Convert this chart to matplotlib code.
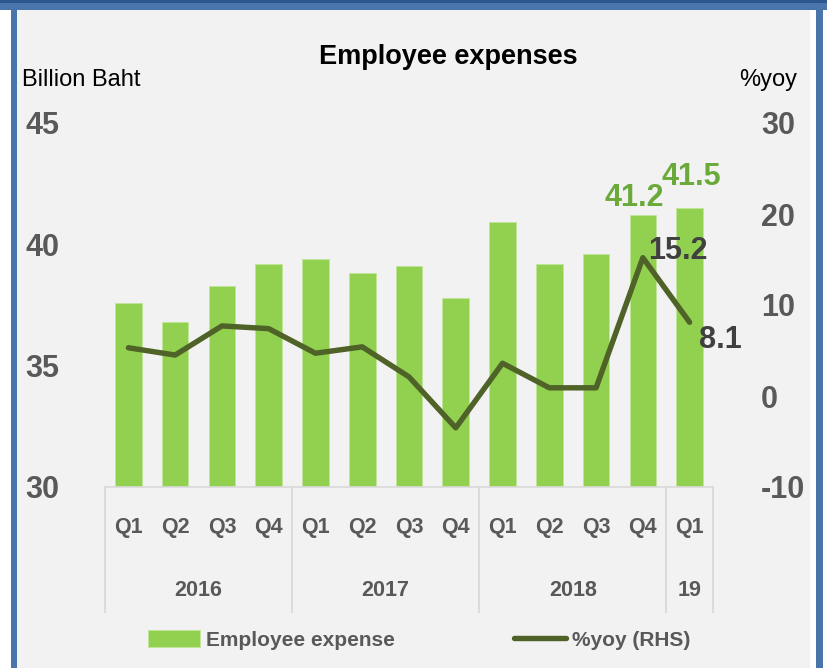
import matplotlib
matplotlib.use("Agg")
import matplotlib.pyplot as plt
from matplotlib.patches import Rectangle
from matplotlib.lines import Line2D

plt.rcParams["font.family"] = ["Liberation Sans", "DejaVu Sans"]
plt.rcParams["axes.unicode_minus"] = False

# quarterly figures
quarters = ["Q1", "Q2", "Q3", "Q4", "Q1", "Q2", "Q3", "Q4", "Q1", "Q2", "Q3", "Q4", "Q1"]
years = ["2016", "2017", "2018", "19"]
year_sizes = [4, 4, 4, 1]
expense = [37.6, 36.8, 38.3, 39.2, 39.4, 38.8, 39.1, 37.8, 40.9, 39.2, 39.6, 41.2, 41.5]
yoy = [5.3, 4.5, 7.7, 7.4, 4.7, 5.4, 2.1, -3.5, 3.6, 0.9, 0.9, 15.2, 8.1]

W, H = 828, 668
BAR = "#92d050"
LINE = "#4f6228"
GREY = "#595959"
SEP = "#d9d9d9"


def fx(px):
    return px / W


def fy(py):
    return 1 - py / H


fig = plt.figure(figsize=(W / 100, H / 100), dpi=100, facecolor="white")

# panel background and blue frame
fig.add_artist(Rectangle((fx(17), 0), fx(810) - fx(17), fy(9), transform=fig.transFigure,
                         facecolor="#f2f2f2", edgecolor="none", zorder=-3))
fig.add_artist(Rectangle((fx(10.5), 0), fx(6.5), 1, transform=fig.transFigure,
                         facecolor="#4a75ab", edgecolor="none", zorder=-2))
fig.add_artist(Rectangle((fx(816), 0), fx(7), 1, transform=fig.transFigure,
                         facecolor="#4a75ab", edgecolor="none", zorder=-2))
fig.add_artist(Rectangle((0, fy(10)), 1, fy(0) - fy(10), transform=fig.transFigure,
                         facecolor="#4a75ab", edgecolor="none", zorder=-2))
fig.add_artist(Rectangle((0, fy(2.5)), 1, fy(0) - fy(2.5), transform=fig.transFigure,
                         facecolor="#2d568e", edgecolor="none", zorder=-1))

left, right, top, bottom = 105, 713, 123, 487
ax = fig.add_axes([fx(left), fy(bottom), fx(right) - fx(left), fy(top) - fy(bottom)])
ax.set_facecolor("none")
ax2 = ax.twinx()

x = list(range(len(quarters)))
bars = ax.bar(x, expense, width=0.57, color=BAR, edgecolor="#bfe59a", linewidth=0.6,
              label="Employee expense", zorder=2)
line, = ax2.plot(x, yoy, color=LINE, lw=3.9, solid_capstyle="round",
                 solid_joinstyle="round", label="%yoy (RHS)", zorder=3)

ax.set_xlim(-0.5, len(quarters) - 0.5)
ax.set_ylim(30, 45)
ax.set_yticks([30, 35, 40, 45])
ax2.set_ylim(-10, 30)
ax2.set_yticks([-10, 0, 10, 20, 30])

for a in (ax, ax2):
    for s in a.spines.values():
        s.set_visible(False)
ax.spines["bottom"].set_visible(True)
ax.spines["bottom"].set_color(SEP)
ax.spines["bottom"].set_linewidth(1.2)

tick_font = dict(fontsize=22, fontweight="bold", color=GREY)
ax.tick_params(axis="y", length=0, pad=33)
ax2.tick_params(axis="y", length=0, pad=34.5)
for lbl in ax.get_yticklabels():
    lbl.set(**tick_font)
for lbl in ax2.get_yticklabels():
    lbl.set(**tick_font)
    lbl.set_ha("left")

# quarter labels, then year groups with separators below the axis
ax.set_xticks(x)
ax.set_xticklabels(quarters, fontsize=15.5, fontweight="bold", color=GREY)
ax.tick_params(axis="x", length=0, pad=29)
for lbl in ax.get_xticklabels():
    lbl.set_va("center")

trans = ax.get_xaxis_transform()
span = bottom - top
start = -0.5
edges = [start]
for name, n in zip(years, year_sizes):
    mid = start + n / 2
    ax.text(mid, -(590 - bottom) / span, name, transform=trans, ha="center", va="center",
            fontsize=15.5, fontweight="bold", color=GREY)
    start += n
    edges.append(start)
for e in edges:
    ax.add_line(Line2D([e, e], [0, -(612 - bottom) / span], transform=trans,
                       color=SEP, lw=1.3, clip_on=False))

# value labels for the last quarters
green_lbl = dict(fontsize=22, fontweight="bold", color="#6aaa3a", ha="center", va="center")
ax.annotate(f"{expense[11]:.1f}", (x[11], expense[11]), xytext=(-6.5, 12.5),
            textcoords="offset points", **green_lbl)
ax.annotate(f"{expense[12]:.1f}", (x[12], expense[12]), xytext=(1.5, 22),
            textcoords="offset points", **green_lbl)
dark_lbl = dict(fontsize=22, fontweight="bold", color="#404040", ha="center", va="center")
ax2.annotate(f"{yoy[11]:.1f}", (x[11], yoy[11]), xytext=(25, 5),
             textcoords="offset points", **dark_lbl)
ax2.annotate(f"{yoy[12]:.1f}", (x[12], yoy[12]), xytext=(22, -13),
             textcoords="offset points", **dark_lbl)

fig.text(fx(448), fy(57), "Employee expenses", ha="center", va="center",
         fontsize=19.5, fontweight="bold", color="black")
fig.text(fx(22), fy(80), "Billion Baht", ha="left", va="center", fontsize=17, color="black")
fig.text(fx(797), fy(80), "%yoy", ha="right", va="center", fontsize=17, color="black")

leg = fig.legend([bars, line], ["Employee expense", "%yoy (RHS)"], loc="center left",
                 bbox_to_anchor=(fx(148), fy(640)), ncol=2, frameon=False,
                 borderpad=0, borderaxespad=0, handlelength=2.5, handleheight=0.9,
                 handletextpad=0.3, columnspacing=5.7,
                 prop=dict(size=15, weight="bold"), labelcolor=GREY)

fig.savefig("out.png", dpi=100, facecolor=fig.get_facecolor())
